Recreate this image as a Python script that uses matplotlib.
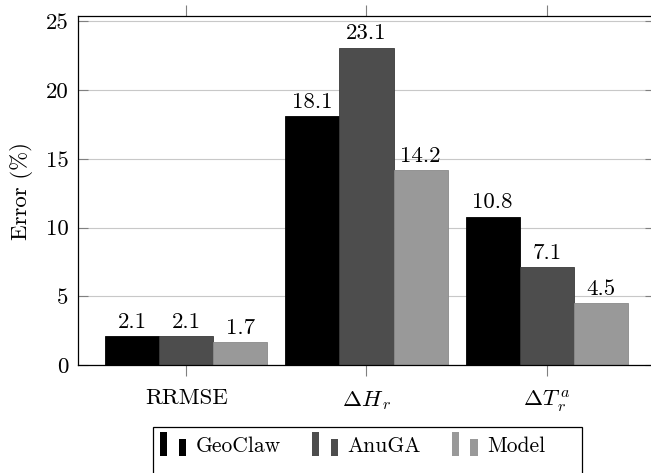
import matplotlib
matplotlib.use("Agg")
import matplotlib.pyplot as plt
from matplotlib.legend_handler import HandlerBase
from matplotlib.patches import Rectangle
import numpy as np

plt.rcParams["font.family"] = ["cmr10", "DejaVu Serif"]
plt.rcParams["mathtext.fontset"] = "cm"
plt.rcParams["axes.unicode_minus"] = False

metrics = [r"RRMSE", r"$\Delta H_{\,r}$", r"$\Delta T_{\,r}^{\,a}$"]
series = ["GeoClaw", "AnuGA", "Model"]
geoclaw = [2.1, 18.1, 10.8]
anuga = [2.1, 23.1, 7.1]
model = [1.7, 14.2, 4.5]
yticks = [0, 5, 10, 15, 20, 25]

colors = ["#000000", "#4d4d4d", "#999999"]
edges = ["#000000", "#3a3a3a", "#8a8a8a"]
FS = 16.5


class TwoBars(HandlerBase):
    # pgfplots-style ybar legend image: two bars, second one shorter
    def create_artists(self, legend, orig, xd, yd, w, h, fontsize, trans):
        c = orig.get_facecolor()
        bw = w * 0.28
        y0 = -yd - h * 0.3
        r1 = Rectangle((-xd, y0), bw, h * 1.6, facecolor=c,
                       edgecolor="none", transform=trans)
        r2 = Rectangle((-xd + w - bw, y0), bw, h * 1.15, facecolor=c,
                       edgecolor="none", transform=trans)
        return [r1, r2]


fig = plt.figure(figsize=(6.51, 4.73), dpi=100)
ax = fig.add_axes([78 / 651, 108 / 473, 577 / 651, 349 / 473])

x = np.arange(len(metrics))
bw = 0.3
handles = []
for i, (vals, name) in enumerate(zip([geoclaw, anuga, model], series)):
    bars = ax.bar(x + (i - 1) * bw, vals, bw, color=colors[i],
                  edgecolor=edges[i], linewidth=0.6, label=name, zorder=2)
    handles.append(bars[0])
    for xi, v in zip(x + (i - 1) * bw, vals):
        ax.text(xi, v + 0.3, f"{v:.1f}", ha="center", va="bottom", fontsize=FS)

ax.set_xlim(-0.6, 2.6)
ax.set_ylim(0, 25.4)
ax.set_xticks(x)
ax.set_xticklabels(metrics, fontsize=FS)
ax.set_yticks(yticks)
ax.set_yticklabels([str(t) for t in yticks], fontsize=FS)
ax.set_ylabel("Error (%)", fontsize=FS, labelpad=9)

ax.yaxis.grid(True, color="#c8c8c8", linewidth=0.8)
ax.set_axisbelow(True)
ax.tick_params(axis="y", direction="in", left=True, right=True, length=7.5,
               width=0.8, color="#808080", pad=7)
ax.tick_params(axis="x", direction="out", bottom=True, top=True, length=8,
               width=0.8, color="#808080", pad=9)
for s in ax.spines.values():
    s.set_linewidth(0.9)

fig.legend(handles, series, loc="upper left", bbox_to_anchor=(160 / 651, 1 - 436 / 473),
           ncol=3, frameon=False, fontsize=15.5, handlelength=1.22,
           handletextpad=0.42, columnspacing=1.45, borderpad=0, borderaxespad=0,
           handler_map={h: TwoBars() for h in handles})
fig.patches.append(Rectangle((153 / 651, -0.05), (582 - 153) / 651, 1 - 427 / 473 + 0.05,
                             transform=fig.transFigure, fill=False,
                             edgecolor="black", linewidth=0.9))

fig.savefig("out.png", dpi=100)
